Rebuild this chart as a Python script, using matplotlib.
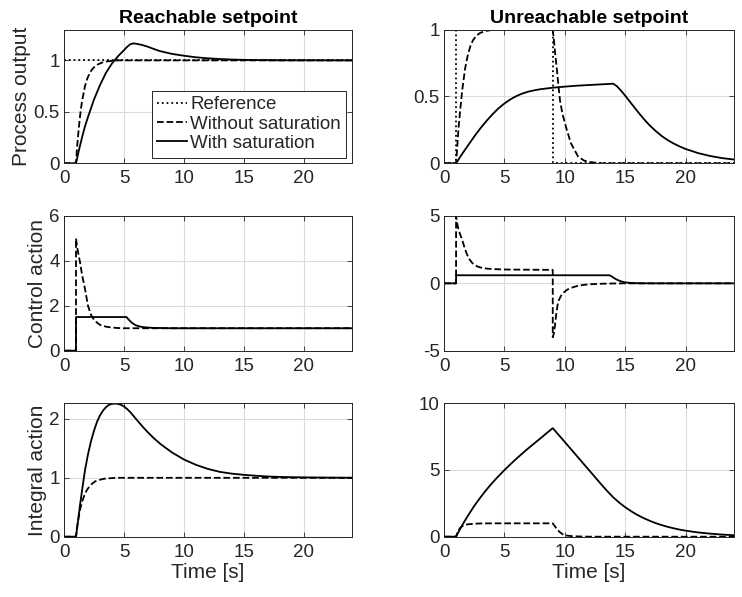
import matplotlib
matplotlib.use("Agg")
import matplotlib.pyplot as plt

plt.rcParams['font.family'] = ['Liberation Sans', 'DejaVu Sans']

# ---------------- Reachable setpoint ----------------
t_ref_r = [0, 24]
ref_r = [1, 1]

t_y_nosat_r = [0, 1, 1.1, 1.2, 1.3, 1.4, 1.5, 1.6, 1.75, 1.9, 2.0, 2.2, 2.4, 2.6, 2.8, 3.0, 3.3, 3.6, 4.0, 4.5, 24]
y_nosat_r = [0, 0, 0.17, 0.30, 0.42, 0.52, 0.60, 0.66, 0.75, 0.81, 0.84, 0.89, 0.92, 0.945, 0.96, 0.97, 0.985, 0.99, 0.995, 1.0, 1.0]

t_y_sat_r = [0, 1, 1.25, 1.5, 1.75, 2.0, 2.5, 3.0, 3.5, 4.0, 4.5, 5.0, 5.25, 5.5, 5.75, 6.0, 6.5, 7.0, 7.5, 8.0,
             9.0, 10.0, 11.0, 12.0, 13.0, 14.0, 15.0, 16.0, 18.0, 24.0]
y_sat_r = [0, 0, 0.13, 0.25, 0.36, 0.45, 0.62, 0.76, 0.88, 0.97, 1.04, 1.10, 1.13, 1.155, 1.165, 1.162, 1.15, 1.132,
           1.11, 1.09, 1.063, 1.045, 1.03, 1.02, 1.013, 1.008, 1.005, 1.003, 1.001, 1.0]

t_u_nosat_r = [0, 1, 1, 1.1, 1.2, 1.33, 1.5, 1.75, 2.0, 2.25, 2.5, 2.75, 3.0, 3.5, 4.0, 4.5, 5.0, 24]
u_nosat_r = [0, 0, 5.0, 4.6, 4.3, 3.95, 3.4, 2.75, 2.0, 1.6, 1.38, 1.25, 1.15, 1.07, 1.03, 1.01, 1.0, 1.0]

t_u_sat_r = [0, 1, 1, 5.2, 5.4, 5.6, 5.8, 6.0, 6.3, 6.6, 7.0, 7.5, 8.0, 9.0, 24]
u_sat_r = [0, 0, 1.5, 1.5, 1.38, 1.27, 1.19, 1.13, 1.08, 1.05, 1.03, 1.015, 1.01, 1.0, 1.0]

t_i_nosat_r = [0, 1, 1.1, 1.2, 1.3, 1.4, 1.5, 1.6, 1.75, 1.9, 2.0, 2.2, 2.4, 2.6, 2.8, 3.0, 3.3, 3.6, 4.0, 4.5, 24]
i_nosat_r = [0, 0, 0.17, 0.30, 0.42, 0.51, 0.59, 0.65, 0.73, 0.79, 0.82, 0.87, 0.91, 0.94, 0.955, 0.967, 0.982, 0.99, 0.995, 1.0, 1.0]

t_i_sat_r = [0, 1, 1.33, 1.5, 1.75, 2.0, 2.25, 2.5, 2.75, 3.0, 3.25, 3.5, 3.75, 4.0, 4.25, 4.5, 4.75, 5.0, 5.25, 5.5,
             6.0, 6.5, 7.0, 7.5, 8.0, 9.0, 10.0, 11.0, 12.0, 13.0, 14.0, 15.0, 16.0, 17.0, 18.0, 19.0, 20.0, 22.0, 24.0]
i_sat_r = [0, 0, 0.53, 0.78, 1.13, 1.40, 1.62, 1.80, 1.95, 2.06, 2.14, 2.20, 2.24, 2.255, 2.26, 2.255, 2.24, 2.21,
           2.17, 2.12, 2.00, 1.88, 1.77, 1.67, 1.58, 1.43, 1.31, 1.22, 1.15, 1.10, 1.07, 1.05, 1.035, 1.022, 1.015,
           1.01, 1.007, 1.003, 1.001]

# ---------------- Unreachable setpoint ----------------
t_ref_u = [0, 1, 1, 9, 9, 24]
ref_u = [0, 0, 1, 1, 0, 0]

t_y_nosat_u = [0, 1, 1.1, 1.2, 1.3, 1.4, 1.5, 1.6, 1.75, 1.9, 2.0, 2.2, 2.4, 2.7, 3.0, 3.5, 4.0, 4.5, 9.0,
               9.1, 9.2, 9.32, 9.45, 9.6, 9.8, 10.1, 10.5, 11.1, 11.6, 12.0, 13.0, 24]
y_nosat_u = [0, 0, 0.13, 0.26, 0.36, 0.45, 0.54, 0.61, 0.71, 0.78, 0.82, 0.88, 0.92, 0.955, 0.975, 0.99, 0.997,
             1.0, 1.0, 0.92, 0.82, 0.72, 0.60, 0.47, 0.37, 0.27, 0.15, 0.05, 0.02, 0.01, 0.0, 0.0]

t_y_sat_u = [0, 1, 1.5, 2.0, 2.5, 3.0, 3.5, 4.0, 4.5, 5.0, 5.5, 6.0, 6.5, 7.0, 7.5, 8.0, 9.0, 10.0, 11.0, 12.0,
             13.0, 14.0, 14.3, 14.6, 15.0, 15.5, 16.0, 16.5, 17.0, 17.5, 18.0, 18.5, 19.0, 19.5, 20.0, 21.0, 22.0,
             23.0, 24.0]
y_sat_u = [0, 0, 0.07, 0.135, 0.20, 0.26, 0.315, 0.365, 0.41, 0.447, 0.478, 0.503, 0.522, 0.536, 0.546, 0.554,
           0.565, 0.573, 0.58, 0.585, 0.59, 0.595, 0.577, 0.548, 0.505, 0.447, 0.39, 0.335, 0.285, 0.243, 0.205,
           0.174, 0.148, 0.126, 0.107, 0.077, 0.055, 0.039, 0.028]

t_u_nosat_u = [0, 1, 1, 1.1, 1.2, 1.35, 1.5, 1.7, 1.9, 2.1, 2.3, 2.5, 2.75, 3.0, 3.5, 4.0, 5.0, 6.0, 9.0,
               9.0, 9.1, 9.2, 9.3, 9.4, 9.5, 9.7, 9.9, 10.2, 10.5, 11.0, 11.5, 12.0, 13.0, 14.0, 15.0, 24]
u_nosat_u = [0, 0, 5.0, 4.4, 4.0, 3.6, 3.25, 2.65, 2.15, 1.8, 1.55, 1.38, 1.26, 1.18, 1.1, 1.06, 1.03, 1.02, 1.0,
             -4.0, -3.7, -3.0, -2.2, -1.6, -1.25, -0.9, -0.68, -0.47, -0.34, -0.2, -0.12, -0.07, -0.03, -0.01, 0, 0]

t_u_sat_u = [0, 1, 1, 13.7, 13.9, 14.1, 14.3, 14.5, 14.75, 15.0, 15.5, 16.0, 17.0, 24]
u_sat_u = [0, 0, 0.6, 0.6, 0.5, 0.38, 0.28, 0.2, 0.12, 0.07, 0.03, 0.01, 0.0, 0.0]

t_i_nosat_u = [0, 1, 1.1, 1.2, 1.33, 1.5, 1.75, 2.0, 2.5, 3.0, 4.0, 9.0, 9.2, 9.4, 9.6, 9.84, 10.2, 10.6, 11.5, 12.0, 24]
i_nosat_u = [0, 0, 0.3, 0.48, 0.65, 0.78, 0.88, 0.93, 0.97, 0.99, 1.0, 1.0, 0.75, 0.5, 0.33, 0.17, 0.08, 0.04, 0.01, 0.0, 0.0]

t_i_sat_u = [0, 1, 1.25, 1.5, 1.75, 2.0, 2.5, 3.0, 3.5, 4.0, 4.5, 5.0, 5.5, 6.0, 6.5, 7.0, 7.5, 8.0, 8.5, 9.0,
             9.5, 10.0, 11.0, 12.0, 13.0, 13.5, 14.0, 14.5, 15.0, 15.5, 16.0, 16.5, 17.0, 17.5, 18.0, 18.5, 19.0,
             19.5, 20.0, 21.0, 22.0, 23.0, 24.0]
i_sat_u = [0, 0, 0.44, 0.85, 1.23, 1.6, 2.3, 2.92, 3.5, 4.03, 4.52, 4.98, 5.42, 5.84, 6.24, 6.63, 7.0, 7.37, 7.75,
           8.12, 7.6, 7.08, 6.03, 4.98, 3.93, 3.42, 2.95, 2.55, 2.2, 1.9, 1.63, 1.4, 1.2, 1.02, 0.87, 0.74, 0.63,
           0.53, 0.45, 0.32, 0.23, 0.16, 0.11]

x_ticks = [0, 5, 10, 15, 20]
titles = ["Reachable setpoint", "Unreachable setpoint"]
ylabels = ["Process output", "Control action", "Integral action"]
legend_labels = ["Reference", "Without saturation", "With saturation"]

TXT = '#262626'
W, H = 742, 597
fig = plt.figure(figsize=(W / 100, H / 100), dpi=100)

cols_px = [(64, 352), (444, 734)]
rows_px = [(29.5, 163.3), (216, 350.7), (403, 536.7)]

ylims = [[(0, 1.3), (0, 1)], [(0, 6), (-5, 5)], [(0, 2.27), (0, 10)]]
yticks = [[[0, 0.5, 1], [0, 0.5, 1]], [[0, 2, 4, 6], [-5, 0, 5]], [[0, 1, 2], [0, 5, 10]]]

LW = 1.3
axes = [[None, None], [None, None], [None, None]]
for r, (top, bot) in enumerate(rows_px):
    for c, (l, rr) in enumerate(cols_px):
        ax = fig.add_axes([l / W, 1 - bot / H, (rr - l) / W, (bot - top) / H])
        axes[r][c] = ax
        ax.set_xlim(0, 24)
        ax.set_ylim(*ylims[r][c])
        ax.set_xticks(x_ticks)
        ax.set_yticks(yticks[r][c])
        ax.set_yticklabels([f"{v:g}" for v in yticks[r][c]])
        ax.grid(True, color='#dcdcdc', linewidth=0.8)
        ax.set_axisbelow(True)
        ax.tick_params(direction='in', top=True, right=True, length=3.5, width=0.6,
                       labelsize=13.5, colors=TXT, pad=3)
        ax.tick_params(axis='x', pad=5)
        for s in ax.spines.values():
            s.set_color('#262626')
            s.set_linewidth(0.7)
        if c == 0:
            ax.set_ylabel(ylabels[r], fontsize=15, color=TXT, labelpad=2)
        if r == 0:
            ax.set_title(titles[c], fontsize=14, fontweight='bold', color='black', pad=5)
        if r == 2:
            ax.set_xlabel("Time [s]", fontsize=15, color=TXT, labelpad=2)

# Row 1 : process output
ax = axes[0][0]
l1, = ax.plot(t_ref_r, ref_r, ':', color='black', lw=LW)
l2, = ax.plot(t_y_nosat_r, y_nosat_r, '--', color='black', lw=LW)
l3, = ax.plot(t_y_sat_r, y_sat_r, '-', color='black', lw=LW)
leg = ax.legend([l1, l2, l3], legend_labels, loc='lower right', fontsize=13.5, frameon=True,
                fancybox=False, framealpha=1, edgecolor='#262626', borderpad=0.3,
                labelspacing=0.12, handlelength=1.6, handletextpad=0.15, borderaxespad=0.3)
leg.get_frame().set_linewidth(0.7)
for t in leg.get_texts():
    t.set_color(TXT)

ax = axes[0][1]
ax.plot(t_ref_u, ref_u, ':', color='black', lw=LW)
ax.plot(t_y_nosat_u, y_nosat_u, '--', color='black', lw=LW)
ax.plot(t_y_sat_u, y_sat_u, '-', color='black', lw=LW)

# Row 2 : control action
ax = axes[1][0]
ax.plot(t_u_nosat_r, u_nosat_r, '--', color='black', lw=LW)
ax.plot(t_u_sat_r, u_sat_r, '-', color='black', lw=LW)
ax = axes[1][1]
ax.plot(t_u_nosat_u, u_nosat_u, '--', color='black', lw=LW)
ax.plot(t_u_sat_u, u_sat_u, '-', color='black', lw=LW)

# Row 3 : integral action
ax = axes[2][0]
ax.plot(t_i_nosat_r, i_nosat_r, '--', color='black', lw=LW)
ax.plot(t_i_sat_r, i_sat_r, '-', color='black', lw=LW)
ax = axes[2][1]
ax.plot(t_i_nosat_u, i_nosat_u, '--', color='black', lw=LW)
ax.plot(t_i_sat_u, i_sat_u, '-', color='black', lw=LW)

fig.savefig("out.png", dpi=100)
